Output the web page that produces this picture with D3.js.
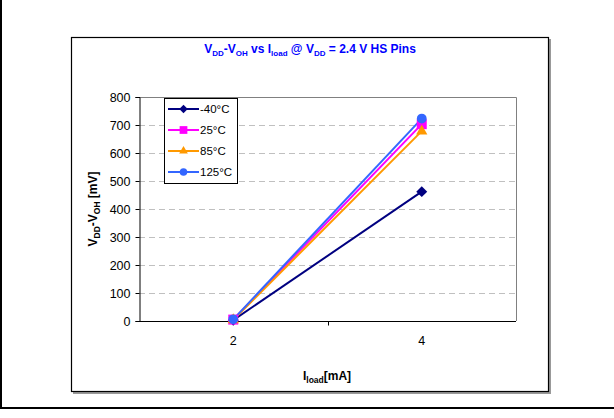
<!DOCTYPE html>
<html>
<head>
<meta charset="utf-8">
<script src="https://cdn.jsdelivr.net/npm/d3@7/dist/d3.min.js"></script>
<style>
  body { margin: 0; background: #fff; }
  text { font-family: Arial, "Liberation Sans", sans-serif; }
</style>
</head>
<body>
<svg id="chart" width="614" height="418"></svg>
<script>
// data
var categories = ["2", "4"];
var seriesNames = ["-40°C", "25°C", "85°C", "125°C"];
var seriesColors = ["#000080", "#FF00FF", "#FF9900", "#3366FF"];
var seriesShapes = ["diamond", "square", "triangle", "circle"];
var valuesM40 = [3, 462];
var values25 = [5, 703];
var values85 = [4, 678];
var values125 = [6, 723];
var yTicks = [0, 100, 200, 300, 400, 500, 600, 700, 800];

var series = [valuesM40, values25, values85, values125].map(function (v, i) {
  return { name: seriesNames[i], color: seriesColors[i], shape: seriesShapes[i], values: v };
});

var svg = d3.select("#chart");

// outer frame (left + bottom)
svg.append("line").attr("x1", 1).attr("y1", 0).attr("x2", 1).attr("y2", 408)
  .attr("stroke", "#000").attr("stroke-width", 2);
svg.append("line").attr("x1", 0).attr("y1", 408).attr("x2", 614).attr("y2", 408)
  .attr("stroke", "#000").attr("stroke-width", 2);

// chart box with small shadow
svg.append("rect").attr("x", 73).attr("y", 39).attr("width", 478).attr("height", 355)
  .attr("fill", "#999");
svg.append("rect").attr("x", 71.5).attr("y", 37.5).attr("width", 477).attr("height", 354)
  .attr("fill", "#fff").attr("stroke", "#000").attr("stroke-width", 1.2);

// title
var title = svg.append("text").attr("x", 310).attr("y", 53)
  .attr("text-anchor", "middle").attr("fill", "#0000FF")
  .attr("font-weight", "bold").attr("font-size", "12px");
title.append("tspan").text("V");
title.append("tspan").attr("font-size", "8px").attr("dy", 3).text("DD");
title.append("tspan").attr("dy", -3).text("-V");
title.append("tspan").attr("font-size", "8px").attr("dy", 3).text("OH");
title.append("tspan").attr("dy", -3).text(" vs I");
title.append("tspan").attr("font-size", "8px").attr("dy", 3).text("load");
title.append("tspan").attr("dy", -3).text(" @ V");
title.append("tspan").attr("font-size", "8px").attr("dy", 3).text("DD");
title.append("tspan").attr("dy", -3).text(" = 2.4 V HS Pins");

// plot area
var pLeft = 139, pRight = 516, pTop = 97, pBottom = 321;

var x = d3.scaleBand().domain(categories).range([pLeft, pRight]);
var y = d3.scaleLinear().domain([0, 800]).range([pBottom, pTop]);

// gridlines
svg.append("g").selectAll("line").data(yTicks.filter(function (d) { return d > 0 && d < 800; }))
  .enter().append("line")
  .attr("x1", pLeft).attr("x2", pRight)
  .attr("y1", function (d) { return y(d) + 0.5; }).attr("y2", function (d) { return y(d) + 0.5; })
  .attr("stroke", "#c0c0c0").attr("stroke-dasharray", "6,4");

// plot border (top + right, grey)
svg.append("path")
  .attr("d", "M" + pLeft + "," + (pTop + 0.5) + "H" + (pRight + 0.5) + "V" + pBottom)
  .attr("fill", "none").attr("stroke", "#808080");

// y axis
var yAxis = svg.append("g").attr("transform", "translate(" + (pLeft + 0.5) + ",0)")
  .call(d3.axisLeft(y).tickValues(yTicks).tickSize(4).tickPadding(5));
yAxis.select(".domain").attr("stroke", "#000");
yAxis.selectAll("text").attr("font-size", "12.5px").attr("fill", "#000")
  .attr("font-family", "Arial, 'Liberation Sans', sans-serif");

// x axis (ticks between categories)
var xAxis = svg.append("g").attr("transform", "translate(0," + (pBottom + 0.5) + ")");
xAxis.append("line").attr("x1", pLeft).attr("x2", pRight).attr("stroke", "#000");
xAxis.selectAll(".tk").data(categories.slice(1)).enter().append("line")
  .attr("x1", function (d) { return Math.round(x(d)) + 0.5; })
  .attr("x2", function (d) { return Math.round(x(d)) + 0.5; })
  .attr("y1", 0).attr("y2", 4).attr("stroke", "#000");
xAxis.selectAll(".lbl").data(categories).enter().append("text")
  .attr("x", function (d) { return x(d) + x.bandwidth() / 2; })
  .attr("y", 23).attr("text-anchor", "middle").attr("font-size", "12.5px")
  .text(function (d) { return d; });

// axis titles
var xt = svg.append("text").attr("x", 327).attr("y", 380).attr("text-anchor", "middle")
  .attr("font-weight", "bold").attr("font-size", "12px");
xt.append("tspan").text("I");
xt.append("tspan").attr("font-size", "8.5px").attr("dy", 3).text("load");
xt.append("tspan").attr("dy", -3).text("[mA]");

var yt = svg.append("text").attr("transform", "translate(97,209) rotate(-90)")
  .attr("text-anchor", "middle").attr("font-weight", "bold").attr("font-size", "12px");
yt.append("tspan").text("V");
yt.append("tspan").attr("font-size", "8.5px").attr("dy", 3).text("DD");
yt.append("tspan").attr("dy", -3).text("-V");
yt.append("tspan").attr("font-size", "8.5px").attr("dy", 3).text("OH");
yt.append("tspan").attr("dy", -3).text(" [mV]");

// lines + markers
var line = d3.line()
  .x(function (d, i) { return x(categories[i]) + x.bandwidth() / 2; })
  .y(function (d) { return y(d); });

function markerPath(shape, k) {
  k = k || 1;
  if (shape === "square") return d3.symbol().type(d3.symbolSquare).size(100 * k)();
  if (shape === "diamond") return d3.symbol().type(d3.symbolSquare).size(60 * k)();
  if (shape === "triangle") return d3.symbol().type(d3.symbolTriangle).size(55 * k)();
  return d3.symbol().type(d3.symbolCircle).size(75 * k)();
}
function markerRot(shape) { return shape === "diamond" ? " rotate(45)" : ""; }

series.forEach(function (s) {
  svg.append("path").datum(s.values).attr("d", line)
    .attr("fill", "none").attr("stroke", s.color).attr("stroke-width", 2);
});
series.forEach(function (s) {
  svg.append("g").selectAll("path").data(s.values).enter().append("path")
    .attr("transform", function (d, i) {
      return "translate(" + (x(categories[i]) + x.bandwidth() / 2) + "," + y(d) + ")" + markerRot(s.shape);
    })
    .attr("d", markerPath(s.shape))
    .attr("fill", s.color);
});

// legend
var lg = svg.append("g");
lg.append("rect").attr("x", 164.5).attr("y", 98.5).attr("width", 73).attr("height", 85)
  .attr("fill", "#fff").attr("stroke", "#000");
series.forEach(function (s, i) {
  var ly = 109 + i * 21;
  lg.append("line").attr("x1", 168).attr("x2", 199).attr("y1", ly).attr("y2", ly)
    .attr("stroke", s.color).attr("stroke-width", 2);
  lg.append("path").attr("transform", "translate(183.5," + ly + ")" + markerRot(s.shape))
    .attr("d", markerPath(s.shape, 0.6)).attr("fill", s.color);
  lg.append("text").attr("x", 200).attr("y", ly + 4).attr("font-size", "11.5px").text(s.name);
});
</script>
</body>
</html>
